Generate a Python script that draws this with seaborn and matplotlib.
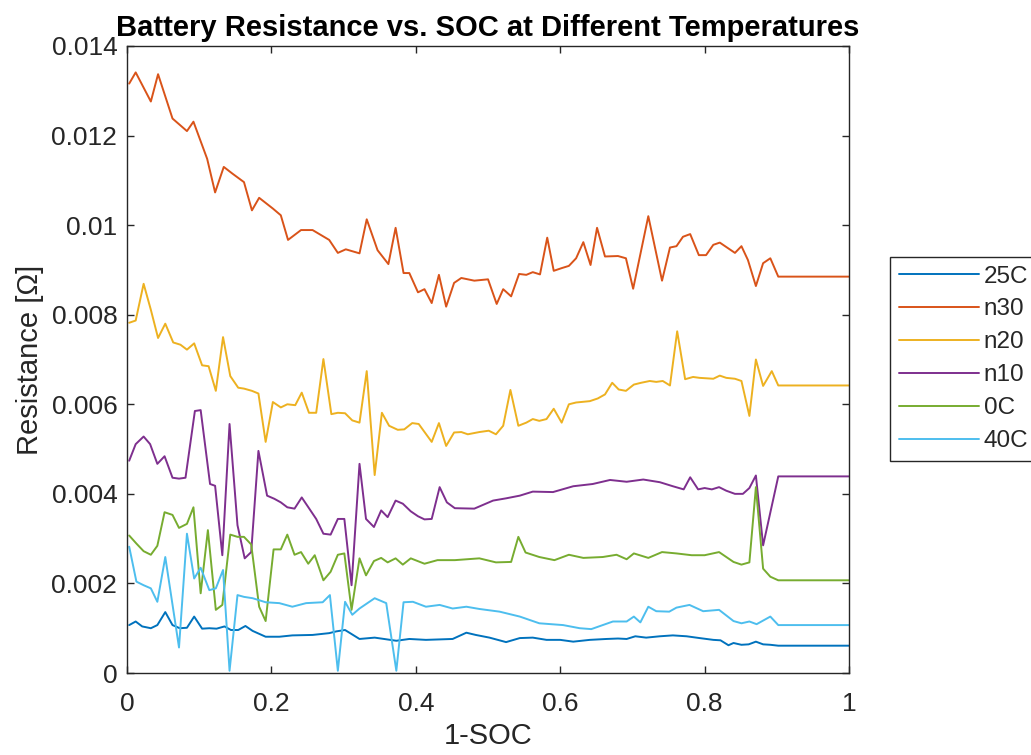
import numpy as np
import pandas as pd
import matplotlib
matplotlib.use('Agg')
import matplotlib.pyplot as plt
import seaborn as sns

# 读图得到的各温度曲线顶点 (1-SOC, 电阻)
x_25c = [0.003, 0.012, 0.021, 0.033, 0.042, 0.053, 0.063, 0.073, 0.083, 0.093, 0.104, 0.114, 0.124,
         0.135, 0.144, 0.154, 0.164, 0.174, 0.192, 0.211, 0.229, 0.257, 0.280, 0.290, 0.302, 0.322,
         0.343, 0.356, 0.373, 0.391, 0.414, 0.451, 0.470, 0.483, 0.502, 0.525, 0.544, 0.562, 0.581,
         0.600, 0.618, 0.641, 0.664, 0.680, 0.692, 0.704, 0.719, 0.738, 0.756, 0.775, 0.793, 0.812,
         0.822, 0.833, 0.840, 0.851, 0.861, 0.871, 0.881, 0.891, 0.902, 1.0]
y_25c = [0.00107, 0.00115, 0.00104, 0.00100, 0.00107, 0.00136, 0.00107, 0.00100, 0.00101, 0.00126,
         0.00099, 0.00100, 0.00099, 0.00104, 0.00096, 0.00096, 0.00105, 0.00094, 0.00081, 0.00081,
         0.00084, 0.00085, 0.00089, 0.00093, 0.00096, 0.00076, 0.00079, 0.00076, 0.00072, 0.00076,
         0.00074, 0.00076, 0.00090, 0.00085, 0.00079, 0.00069, 0.00078, 0.00079, 0.00074, 0.00074,
         0.00070, 0.00074, 0.00076, 0.00077, 0.00076, 0.00082, 0.00079, 0.00082, 0.00084, 0.00082,
         0.00078, 0.00074, 0.00073, 0.00062, 0.00067, 0.00063, 0.00064, 0.00070, 0.00064, 0.00063,
         0.00061, 0.00061]

x_n30 = [0.003, 0.012, 0.033, 0.043, 0.063, 0.083, 0.092, 0.111, 0.122, 0.134, 0.146, 0.162, 0.173,
         0.183, 0.202, 0.213, 0.223, 0.241, 0.257, 0.280, 0.292, 0.303, 0.322, 0.332, 0.347, 0.362,
         0.372, 0.383, 0.391, 0.403, 0.412, 0.422, 0.432, 0.442, 0.453, 0.463, 0.481, 0.500, 0.512,
         0.521, 0.532, 0.543, 0.553, 0.562, 0.572, 0.582, 0.591, 0.602, 0.612, 0.622, 0.632, 0.642,
         0.651, 0.662, 0.680, 0.691, 0.701, 0.722, 0.741, 0.752, 0.761, 0.770, 0.780, 0.792, 0.802,
         0.812, 0.821, 0.842, 0.851, 0.860, 0.871, 0.881, 0.891, 0.902, 1.0]
y_n30 = [0.01316, 0.01341, 0.01276, 0.01337, 0.01238, 0.01210, 0.01231, 0.01148, 0.01073, 0.01130,
         0.01115, 0.01096, 0.01033, 0.01061, 0.01037, 0.01022, 0.00967, 0.00989, 0.00989, 0.00967,
         0.00938, 0.00946, 0.00937, 0.01013, 0.00944, 0.00913, 0.00994, 0.00893, 0.00893, 0.00850,
         0.00857, 0.00826, 0.00889, 0.00818, 0.00871, 0.00882, 0.00876, 0.00879, 0.00824, 0.00857,
         0.00841, 0.00891, 0.00889, 0.00895, 0.00890, 0.00972, 0.00898, 0.00904, 0.00909, 0.00926,
         0.00962, 0.00911, 0.00994, 0.00930, 0.00931, 0.00926, 0.00858, 0.01020, 0.00876, 0.00950,
         0.00953, 0.00974, 0.00980, 0.00933, 0.00933, 0.00956, 0.00961, 0.00938, 0.00953, 0.00922,
         0.00864, 0.00915, 0.00926, 0.00885, 0.00885]

x_n20 = [0.003, 0.012, 0.023, 0.033, 0.043, 0.053, 0.064, 0.074, 0.083, 0.093, 0.104, 0.113, 0.123,
         0.133, 0.143, 0.154, 0.162, 0.173, 0.182, 0.192, 0.202, 0.213, 0.222, 0.233, 0.242, 0.252,
         0.262, 0.272, 0.283, 0.292, 0.302, 0.312, 0.322, 0.332, 0.343, 0.353, 0.363, 0.375, 0.384,
         0.395, 0.404, 0.422, 0.432, 0.442, 0.453, 0.463, 0.472, 0.488, 0.501, 0.511, 0.521, 0.531,
         0.542, 0.553, 0.562, 0.571, 0.581, 0.591, 0.602, 0.612, 0.622, 0.641, 0.652, 0.662, 0.672,
         0.681, 0.691, 0.702, 0.712, 0.724, 0.733, 0.742, 0.752, 0.762, 0.773, 0.784, 0.793, 0.812,
         0.821, 0.830, 0.842, 0.851, 0.862, 0.871, 0.881, 0.893, 0.902, 1.0]
y_n20 = [0.00782, 0.00787, 0.00869, 0.00811, 0.00748, 0.00780, 0.00738, 0.00733, 0.00722, 0.00736,
         0.00687, 0.00685, 0.00630, 0.00750, 0.00663, 0.00637, 0.00635, 0.00630, 0.00624, 0.00516,
         0.00605, 0.00593, 0.00600, 0.00598, 0.00626, 0.00581, 0.00581, 0.00701, 0.00578, 0.00581,
         0.00580, 0.00564, 0.00559, 0.00674, 0.00442, 0.00581, 0.00552, 0.00543, 0.00544, 0.00558,
         0.00556, 0.00516, 0.00558, 0.00507, 0.00537, 0.00538, 0.00533, 0.00538, 0.00541, 0.00533,
         0.00552, 0.00632, 0.00552, 0.00559, 0.00567, 0.00563, 0.00567, 0.00590, 0.00559, 0.00600,
         0.00604, 0.00607, 0.00613, 0.00622, 0.00648, 0.00633, 0.00630, 0.00644, 0.00648, 0.00652,
         0.00650, 0.00652, 0.00642, 0.00763, 0.00656, 0.00661, 0.00659, 0.00657, 0.00664, 0.00659,
         0.00657, 0.00652, 0.00574, 0.00700, 0.00641, 0.00674, 0.00642, 0.00642]

x_n10 = [0.003, 0.012, 0.023, 0.032, 0.042, 0.052, 0.063, 0.072, 0.081, 0.094, 0.102, 0.115, 0.122,
         0.132, 0.142, 0.153, 0.163, 0.172, 0.182, 0.194, 0.204, 0.213, 0.222, 0.232, 0.242, 0.252,
         0.262, 0.272, 0.282, 0.292, 0.301, 0.311, 0.322, 0.331, 0.342, 0.352, 0.361, 0.372, 0.382,
         0.393, 0.403, 0.412, 0.422, 0.433, 0.443, 0.454, 0.481, 0.507, 0.525, 0.544, 0.562, 0.590,
         0.618, 0.645, 0.669, 0.692, 0.715, 0.738, 0.756, 0.771, 0.780, 0.791, 0.800, 0.810, 0.820,
         0.830, 0.842, 0.853, 0.862, 0.871, 0.881, 0.902, 1.0]
y_n10 = [0.00474, 0.00511, 0.00528, 0.00511, 0.00467, 0.00484, 0.00436, 0.00434, 0.00436, 0.00585,
         0.00587, 0.00422, 0.00418, 0.00263, 0.00556, 0.00330, 0.00256, 0.00270, 0.00496, 0.00396,
         0.00389, 0.00381, 0.00370, 0.00367, 0.00392, 0.00368, 0.00344, 0.00311, 0.00309, 0.00344,
         0.00344, 0.00196, 0.00467, 0.00344, 0.00326, 0.00363, 0.00348, 0.00385, 0.00378, 0.00361,
         0.00350, 0.00343, 0.00344, 0.00415, 0.00381, 0.00368, 0.00367, 0.00385, 0.00390, 0.00396,
         0.00405, 0.00404, 0.00417, 0.00422, 0.00431, 0.00427, 0.00432, 0.00426, 0.00417, 0.00410,
         0.00437, 0.00410, 0.00413, 0.00410, 0.00415, 0.00407, 0.00400, 0.00400, 0.00413, 0.00441,
         0.00285, 0.00439, 0.00439]

x_0c = [0.003, 0.013, 0.023, 0.033, 0.042, 0.052, 0.063, 0.072, 0.083, 0.092, 0.102, 0.112, 0.123,
        0.132, 0.143, 0.153, 0.162, 0.172, 0.183, 0.192, 0.203, 0.213, 0.222, 0.232, 0.241, 0.251,
        0.260, 0.272, 0.282, 0.292, 0.301, 0.311, 0.322, 0.331, 0.342, 0.352, 0.361, 0.372, 0.382,
        0.393, 0.412, 0.430, 0.454, 0.488, 0.511, 0.532, 0.542, 0.552, 0.571, 0.592, 0.612, 0.632,
        0.659, 0.678, 0.692, 0.702, 0.722, 0.741, 0.761, 0.782, 0.800, 0.820, 0.840, 0.851, 0.862,
        0.871, 0.881, 0.891, 0.902, 1.0]
y_0c = [0.00307, 0.00289, 0.00272, 0.00264, 0.00284, 0.00359, 0.00353, 0.00324, 0.00333, 0.00370,
        0.00178, 0.00319, 0.00141, 0.00152, 0.00309, 0.00304, 0.00304, 0.00287, 0.00148, 0.00116,
        0.00276, 0.00276, 0.00309, 0.00264, 0.00270, 0.00244, 0.00263, 0.00207, 0.00226, 0.00264,
        0.00267, 0.00141, 0.00256, 0.00218, 0.00250, 0.00257, 0.00247, 0.00256, 0.00242, 0.00256,
        0.00244, 0.00252, 0.00252, 0.00256, 0.00247, 0.00248, 0.00304, 0.00269, 0.00259, 0.00252,
        0.00264, 0.00257, 0.00259, 0.00264, 0.00254, 0.00267, 0.00257, 0.00270, 0.00267, 0.00263,
        0.00263, 0.00270, 0.00248, 0.00242, 0.00247, 0.00415, 0.00233, 0.00215, 0.00207, 0.00207]

x_40c = [0.003, 0.013, 0.023, 0.033, 0.042, 0.053, 0.072, 0.083, 0.093, 0.102, 0.114, 0.123, 0.133,
         0.142, 0.153, 0.162, 0.174, 0.192, 0.211, 0.229, 0.248, 0.271, 0.281, 0.292, 0.302, 0.312,
         0.322, 0.343, 0.359, 0.373, 0.383, 0.396, 0.414, 0.433, 0.451, 0.470, 0.488, 0.516, 0.544,
         0.571, 0.604, 0.627, 0.643, 0.673, 0.692, 0.702, 0.711, 0.722, 0.733, 0.751, 0.761, 0.779,
         0.798, 0.820, 0.840, 0.851, 0.862, 0.872, 0.891, 0.902, 1.0]
y_40c = [0.00282, 0.00204, 0.00196, 0.00189, 0.00159, 0.00259, 0.00057, 0.00311, 0.00211, 0.00235,
         0.00185, 0.00189, 0.00230, 0.00005, 0.00174, 0.00170, 0.00167, 0.00158, 0.00156, 0.00148,
         0.00156, 0.00158, 0.00174, 0.00005, 0.00159, 0.00130, 0.00144, 0.00167, 0.00156, 0.00005,
         0.00158, 0.00159, 0.00148, 0.00152, 0.00144, 0.00148, 0.00143, 0.00137, 0.00126, 0.00111,
         0.00107, 0.00100, 0.00098, 0.00115, 0.00115, 0.00126, 0.00113, 0.00148, 0.00138, 0.00137,
         0.00146, 0.00152, 0.00138, 0.00141, 0.00116, 0.00111, 0.00115, 0.00109, 0.00126, 0.00107,
         0.00107]

labels = ['25C', 'n30', 'n20', 'n10', '0C', '40C']
colors = ['#0072BD', '#D95319', '#EDB120', '#7E2F8E', '#77AC30', '#4DBEEE']

series_x = [x_25c, x_n30, x_n20, x_n10, x_0c, x_40c]
series_y = [y_25c, y_n30, y_n20, y_n10, y_0c, y_40c]

# 拼成长表
frames = []
for name, xs, ys in zip(labels, series_x, series_y):
    frames.append(pd.DataFrame({'x': xs, 'y': ys, 'series': name}))
df = pd.concat(frames, ignore_index=True)

sns.set_theme(style='white')
plt.rcParams['font.family'] = ['Liberation Sans', 'DejaVu Sans']
plt.rcParams['axes.unicode_minus'] = False

fig = plt.figure(figsize=(10.31, 7.55), dpi=100)
ax = fig.add_axes([0.1232, 0.1086, 0.7003, 0.8305])

sns.lineplot(data=df, x='x', y='y', hue='series', hue_order=labels,
             palette=dict(zip(labels, colors)), estimator=None, sort=True,
             linewidth=1.4, ax=ax, legend=True)

ax.set_xlim(0, 1)
ax.set_ylim(0, 0.014)
ax.set_xticks([0, 0.2, 0.4, 0.6, 0.8, 1])
ax.set_xticklabels(['0', '0.2', '0.4', '0.6', '0.8', '1'])
ax.set_yticks(np.arange(0, 0.0141, 0.002))
ax.set_yticklabels(['0', '0.002', '0.004', '0.006', '0.008', '0.01', '0.012', '0.014'])

axis_color = '#262626'
for sp in ax.spines.values():
    sp.set_visible(True)
    sp.set_color(axis_color)
    sp.set_linewidth(1.0)
ax.tick_params(direction='in', length=5, width=1, color=axis_color,
               labelcolor=axis_color, labelsize=19, top=True, right=True,
               bottom=True, left=True)
ax.tick_params(axis='x', pad=14)
ax.tick_params(axis='y', pad=7)

ax.set_xlabel('1-SOC', fontsize=21, color=axis_color, labelpad=4)
ax.set_ylabel('Resistance [Ω]', fontsize=21, color=axis_color, labelpad=5)
ax.set_title('Battery Resistance vs. SOC at Different Temperatures',
             fontsize=21, fontweight='bold', color='black', pad=7)

handles, lbls = ax.get_legend_handles_labels()
leg = ax.legend(handles, lbls, loc='upper left',
                bbox_to_anchor=(890 / 1031, 1 - 257 / 755),
                bbox_transform=fig.transFigure, fontsize=17.5,
                frameon=True, fancybox=False, framealpha=1,
                edgecolor=axis_color, handlelength=3.3, handletextpad=0.2,
                labelspacing=0.45, borderpad=0.35, borderaxespad=0)
leg.get_frame().set_linewidth(1.0)
for t in leg.get_texts():
    t.set_color(axis_color)

fig.savefig('out.png', dpi=100)
plt.close(fig)
